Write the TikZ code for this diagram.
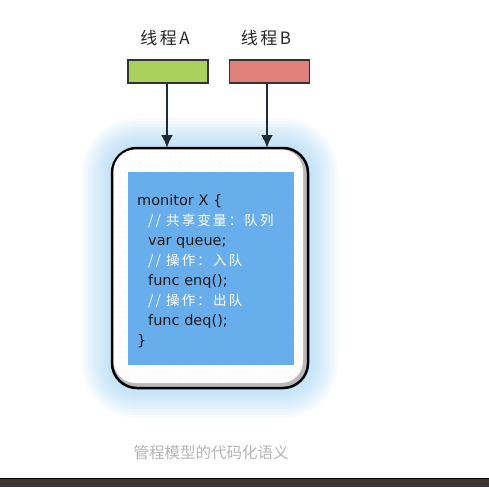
\documentclass[tikz,border=0pt]{standalone}
\usepackage{fontspec}
\setmainfont{Noto Sans CJK SC}
\newfontfamily\codefont{DejaVu Sans}
\newfontfamily\cjkfont{Noto Sans CJK SC}[LetterSpace=16]
\usetikzlibrary{patterns.meta, arrows.meta}

\definecolor{threadA}{HTML}{A8D05A}
\definecolor{threadB}{HTML}{E0807A}
\definecolor{codeblue}{HTML}{68AEEC}
\definecolor{halo}{HTML}{7CC0F0}
\definecolor{arrowink}{HTML}{1E2A38}
\definecolor{captiongray}{HTML}{B4B4B4}
\definecolor{bar}{HTML}{3C3530}

\newcommand{\cmt}[1]{\textcolor{white}{\cjkfont\fontsize{13.5}{20}\selectfont #1}}

\begin{document}
\begin{tikzpicture}[
		x=1pt, y=-1pt,
		thread/.style={draw=black!80, line width=1.5pt, minimum width=80pt, minimum height=23pt, inner sep=0pt},
		label/.style={font=\fontsize{17}{20}\selectfont\addfontfeatures{LetterSpace=15}, text=black!85},
		flow/.style={-{Latex[length=13pt, width=12pt]}, line width=2.4pt, draw=arrowink},
		every node/.append style={inner sep=0pt}
		]
		\useasboundingbox (0,0) rectangle (489,487);
		
		% Glow around the monitor
		\foreach \r in {30,27,...,3}
			\fill[halo, opacity=0.06, rounded corners=25pt+\r pt] (112-\r,148-\r) rectangle (308+\r,388+\r);
		
		% Threads
		\node[thread, fill=threadA] (tA) at (168,71.5) {};
		\node[thread, fill=threadB] (tB) at (269.5,71.5) {};
		\node[label] (lA) at (165,38) {线程A};
		\node[label] (lB) at (266,38) {线程B};
		
		% Monitor box with shadow edge
		\draw[line width=2.5pt, fill=gray!55, rounded corners=25pt] (112,148) rectangle (308,388);
		\fill[white, rounded corners=22pt] (113.5,149.5) rectangle (303,383);
		\fill[pattern={Dots[distance=5pt, radius=0.45pt]}, pattern color=red!35, rounded corners=22pt] (113.5,149.5) rectangle (303,383);
		\node[draw=none, fill=codeblue, minimum width=166pt, minimum height=193pt, anchor=north west] (code) at (128,172) {};
		
		% Code
		\node[anchor=north west, align=left, font=\codefont\fontsize{14.5}{20}\selectfont, text=black!90] (src) at (137,194.5) {%
			monitor X \{\\
			\hspace*{11pt}\cmt{// 共享变量：队列}\\
			\hspace*{11pt}var queue;\\
			\hspace*{11pt}\cmt{// 操作：入队}\\
			\hspace*{11pt}func enq();\\
			\hspace*{11pt}\cmt{// 操作：出队}\\
			\hspace*{11pt}func deq();\\
			\}};
		
		% Arrows into the monitor
		\coordinate (inA) at (167,148);
		\coordinate (inB) at (267,148);
		\draw[flow] (tA.south -| inA) -- (inA);
		\draw[flow] (tB.south -| inB) -- (inB);
		
		% Caption
		\node[font=\fontsize{15.5}{18}\selectfont, text=captiongray] (cap) at (211,453) {管程模型的代码化语义};
		
		% Bottom bar
		\fill[bar] (0,478) rectangle (489,487);
		\draw[black, line width=1pt] (0,478) -- (489,478);
		
	\end{tikzpicture}
\end{document}
